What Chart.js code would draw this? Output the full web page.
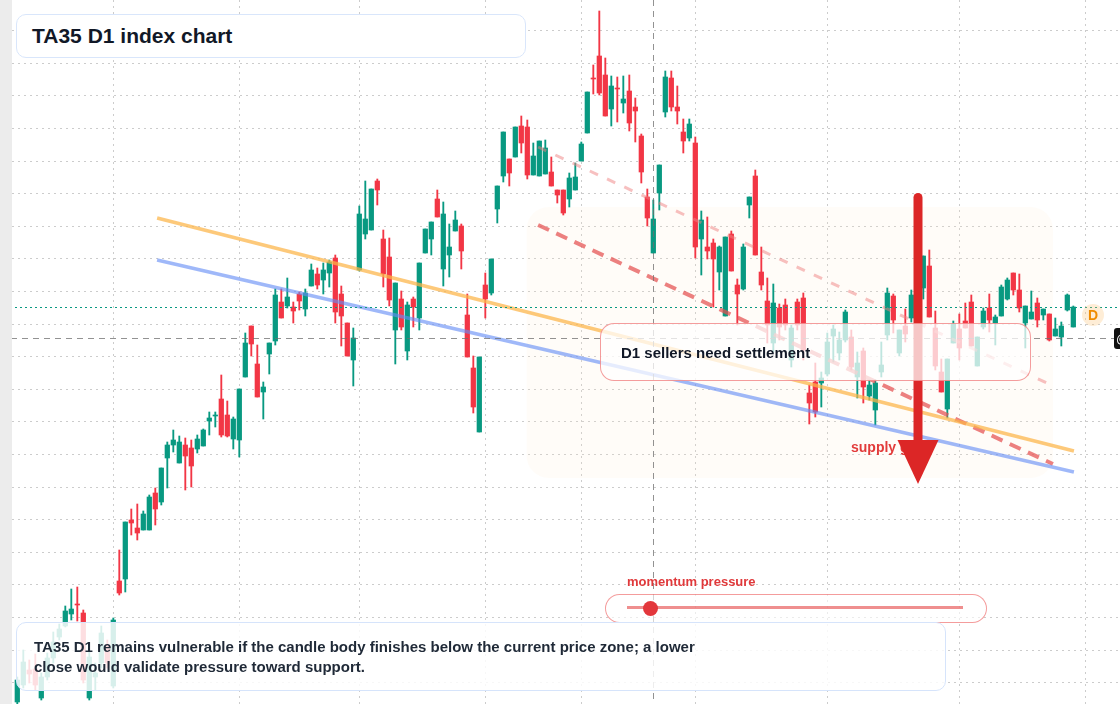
<!DOCTYPE html>
<html lang="en">
<head>
<meta charset="UTF-8">
<title>TA35 D1 index chart</title>
<script src="https://cdn.jsdelivr.net/npm/chart.js"></script>
<style>
    html, body { margin: 0; padding: 0; background: #fff; overflow: hidden; }
    body { width: 1120px; height: 704px; position: relative; font-family: "Liberation Sans", Arial, sans-serif; }
    #wrap { position: absolute; left: 0; top: 0; width: 1120px; height: 704px; }
    .strip { position: absolute; left: 0; top: 0; width: 12px; height: 704px; background: #ececec; }
    .box { position: absolute; box-sizing: border-box; }
    .title {
        left: 16px; top: 14px; width: 510px; height: 44px;
        background: #fff; border: 1.5px solid #d9e6fb; border-radius: 10px;
        padding-left: 15px; line-height: 42px;
        font-size: 21px; font-weight: bold; color: #111827;
    }
    .note {
        left: 16px; top: 622px; width: 930px; height: 69px;
        background: rgba(255,255,255,0.84); border: 1.5px solid #d6e4fb; border-radius: 10px;
        padding: 14px 0 0 17px; line-height: 20px;
        font-size: 15px; font-weight: bold; color: #1f2937;
    }
    .sellers {
        left: 600px; top: 323px; width: 431px; height: 58px;
        background: rgba(255,255,255,0.74); border: 1.5px solid rgba(236,90,90,0.6); border-radius: 14px;
        padding-left: 20px; line-height: 58px;
        font-size: 15px; font-weight: bold; color: #111827;
    }
    .label { position: absolute; font-weight: bold; white-space: nowrap; }
    .momentum { left: 627px; top: 574px; font-size: 13px; color: #e0393b; }
    .supply { left: 851px; top: 439px; font-size: 14px; color: #e23b3b; }
    .pill {
        left: 605px; top: 594px; width: 382px; height: 29px;
        background: rgba(255,255,255,0.6); border: 1.5px solid rgba(236,90,90,0.6); border-radius: 15px;
    }
    .track { position: absolute; left: 627px; top: 606px; width: 336px; height: 3px; background: rgba(232,96,96,0.7); }
    .knob { position: absolute; left: 643px; top: 601px; width: 15px; height: 15px; border-radius: 50%; background: #e3373c; }
    #arrow { position: absolute; left: 0; top: 0; }
    .badge {
        position: absolute; left: 1082px; top: 304px; width: 22px; height: 22px; border-radius: 50%;
        background: rgba(253,196,120,0.3); color: #f08c00; font-size: 14px; font-weight: bold;
        text-align: center; line-height: 22px;
    }
    .pricetag {
        position: absolute; left: 1114px; top: 328px; width: 14px; height: 21px; border-radius: 3px;
        background: #111; color: #fff; font-size: 13px; line-height: 21px; padding-left: 2px; box-sizing: border-box;
    }
</style>
</head>
<body>
<div id="wrap"><canvas id="chart"></canvas></div>
<div class="strip"></div>

<div class="label supply">supply gate</div>
<svg id="arrow" width="1120" height="704">
    <rect x="913.5" y="193" width="9" height="252" rx="4.5" fill="#dc2626"/>
    <polygon points="897.5,440 938.5,440 918,484" fill="#dc2626"/>
</svg>

<div class="box title">TA35 D1 index chart</div>
<div class="box sellers">D1 sellers need settlement</div>
<div class="label momentum">momentum pressure</div>
<div class="box pill"></div>
<div class="track"></div>
<div class="knob"></div>
<div class="box note">TA35 D1 remains vulnerable if the candle body finishes below the current price zone; a lower<br>close would validate pressure toward support.</div>
<div class="badge">D</div>
<div class="pricetag">@</div>

<script>
    // daily candles, oldest first (index points)
    var open = [2298,2315,2330,2331,2302,2323,2342,2363,2374,2386,
        2396,2387,2302,2323,2337,2355,2314,2419,2421,2480,
        2472,2470,2470,2507,2498,2542,2555,2537,2555,2552,
        2551,2554,2579,2584,2601,2585,2561,2560,2623,2674,
        2636,2608,2646,2659,2698,2694,2693,2706,2691,2714,
        2726,2720,2727,2742,2706,2677,2640,2730,2766,2770,
        2819,2761,2743,2670,2701,2649,2701,2682,2747,2761,
        2801,2731,2745,2769,2774,2685,2632,2568,2715,2707,
        2791,2824,2841,2843,2874,2873,2825,2824,2826,2828,
        2810,2810,2801,2810,2839,2867,2922,2944,2925,2891,
        2912,2897,2909,2893,2864,2803,2747,2807,2888,2922,
        2893,2868,2862,2857,2761,2753,2757,2728,2684,2766,
        2715,2711,2795,2824,2728,2699,2657,2692,2695,2640,
        2698,2702,2607,2618,2617,2626,2664,2647,2660,2663,
        2623,2649,2604,2590,2628,2665,2704,2647,2674,2682,
        2700,2712,2734,2672,2628,2591,2657,2671,2679,2698,
        2634,2673,2692,2677,2684,2701,2727,2710,2677,2681,
        2697,2685,2686,2664,2663,2690,2673];
    var high = [2323,2350,2340,2346,2327,2347,2368,2376,2394,2411,
        2413,2390,2350,2337,2374,2360,2382,2450,2478,2491,
        2496,2489,2505,2512,2532,2558,2570,2564,2562,2560,
        2565,2571,2588,2588,2625,2599,2583,2611,2667,2674,
        2655,2618,2657,2711,2711,2722,2698,2708,2711,2736,
        2732,2737,2740,2745,2714,2677,2672,2794,2819,2811,
        2821,2770,2762,2717,2709,2698,2703,2737,2771,2778,
        2810,2798,2776,2789,2776,2706,2644,2643,2727,2741,
        2814,2868,2841,2873,2884,2880,2857,2859,2860,2843,
        2810,2810,2827,2837,2858,2908,2935,2989,2942,2924,
        2923,2924,2925,2902,2866,2811,2800,2835,2929,2929,
        2914,2881,2881,2863,2789,2783,2761,2754,2763,2769,
        2721,2756,2803,2830,2753,2722,2716,2696,2701,2675,
        2701,2707,2615,2637,2628,2667,2675,2668,2690,2670,
        2648,2652,2620,2620,2658,2712,2706,2670,2691,2710,
        2705,2744,2750,2689,2641,2641,2679,2686,2697,2705,
        2663,2692,2706,2685,2715,2722,2727,2726,2694,2709,
        2702,2691,2686,2682,2678,2706,2694];
    var low = [2290,2312,2317,2310,2300,2320,2337,2360,2373,2380,
        2379,2317,2300,2310,2332,2332,2312,2405,2408,2465,
        2460,2470,2470,2475,2495,2512,2548,2537,2510,2513,
        2547,2554,2565,2573,2563,2563,2551,2543,2623,2644,
        2603,2581,2626,2655,2682,2692,2677,2690,2684,2714,
        2711,2706,2713,2677,2654,2644,2614,2729,2761,2770,
        2795,2713,2694,2636,2670,2640,2673,2670,2747,2745,
        2783,2714,2723,2769,2731,2643,2587,2568,2682,2705,
        2777,2818,2814,2843,2847,2821,2825,2824,2826,2814,
        2797,2785,2793,2810,2839,2867,2906,2905,2884,2874,
        2878,2887,2869,2858,2817,2774,2747,2790,2883,2889,
        2876,2847,2859,2742,2725,2741,2693,2710,2684,2729,
        2675,2710,2782,2745,2710,2657,2648,2660,2670,2633,
        2670,2640,2576,2583,2593,2624,2638,2640,2658,2630,
        2602,2597,2600,2575,2623,2660,2667,2644,2658,2678,
        2662,2701,2683,2630,2608,2582,2657,2640,2672,2654,
        2634,2671,2668,2655,2684,2700,2705,2688,2652,2681,
        2673,2680,2659,2664,2654,2689,2673];
    var close = [2320,2338,2326,2315,2323,2342,2358,2371,2389,2391,
        2395,2320,2343,2327,2367,2337,2380,2407,2478,2477,
        2467,2486,2503,2491,2532,2555,2560,2558,2544,2534,
        2561,2570,2582,2585,2565,2564,2581,2611,2657,2656,
        2603,2613,2657,2705,2682,2703,2689,2699,2707,2730,
        2715,2730,2738,2688,2684,2644,2662,2786,2781,2811,
        2810,2726,2700,2717,2673,2695,2693,2737,2771,2778,
        2783,2786,2753,2780,2749,2643,2593,2643,2701,2741,
        2814,2868,2827,2873,2857,2825,2844,2859,2852,2814,
        2805,2787,2822,2823,2856,2908,2921,2907,2884,2914,
        2911,2901,2877,2889,2828,2782,2781,2835,2923,2893,
        2889,2859,2876,2753,2780,2749,2741,2753,2763,2729,
        2706,2753,2803,2745,2715,2675,2697,2673,2675,2672,
        2675,2650,2597,2588,2622,2658,2671,2660,2688,2633,
        2637,2613,2615,2617,2635,2707,2680,2670,2666,2705,
        2670,2744,2683,2634,2608,2641,2676,2652,2672,2654,
        2663,2689,2680,2683,2713,2720,2710,2692,2694,2688,
        2680,2691,2660,2671,2674,2705,2693];

    // drawn levels: [start, end] in candle index and price
    var resistanceIdx = [23.3, 176.1], resistancePx = [2782, 2549];
    var supportIdx = [23.3, 176.1], supportPx = [2740, 2528];
    var channelLowIdx = [86.8, 172.6], channelLowPx = [2775, 2536];
    var channelHighIdx = [86.8, 172.3], channelHighPx = [2853, 2615];
    var zoneIdx = [84.9, 172.6], zonePx = [2522, 2793];
    var crossIdx = 106, crossPx = 2662;

    // grid positions
    var monthTicks = [16, 37, 57, 78, 94, 113, 135, 157, 178];
    var priceTicks = [2969.3, 2936.7, 2904.1, 2871.5, 2838.9, 2806.3, 2773.7, 2741.1, 2708.5, 2675.9,
        2643.3, 2610.7, 2578.1, 2545.5, 2512.9, 2480.3, 2447.7, 2415.1, 2382.5, 2349.9, 2317.3];

    var UP = '#089981', DOWN = '#f23645';
    var colors = close.map(function (c, i) { return c >= open[i] ? UP : DOWN; });
    var bodies = open.map(function (o, i) { return { x: i, y: [o, close[i]] }; });
    var wicks = low.map(function (l, i) { return { x: i, y: [l, high[i]] }; });

    function seg(xs, ys) {
        return [{ x: xs[0], y: ys[0] }, { x: xs[1], y: ys[1] }];
    }

    var overlayPlugin = {
        id: 'overlay',
        beforeDatasetsDraw: function (chart) {
            var ctx = chart.ctx, xs = chart.scales.x, ys = chart.scales.y;
            var x1 = xs.getPixelForValue(zoneIdx[0]), x2 = xs.getPixelForValue(zoneIdx[1]);
            var y1 = ys.getPixelForValue(zonePx[1]), y2 = ys.getPixelForValue(zonePx[0]);
            ctx.save();
            ctx.fillStyle = 'rgba(255,228,200,0.13)';
            ctx.beginPath();
            ctx.roundRect(x1, y1, x2 - x1, y2 - y1, 22);
            ctx.fill();
            ctx.restore();
        },
        afterDatasetsDraw: function (chart) {
            var ctx = chart.ctx, xs = chart.scales.x, ys = chart.scales.y, a = chart.chartArea;
            ctx.save();
            // crosshair
            ctx.strokeStyle = 'rgba(110,110,110,0.75)';
            ctx.lineWidth = 1;
            ctx.setLineDash([6, 5]);
            var cx = Math.round(xs.getPixelForValue(crossIdx)) + 0.5;
            ctx.beginPath(); ctx.moveTo(cx, a.top); ctx.lineTo(cx, a.bottom); ctx.stroke();
            var cy = Math.round(ys.getPixelForValue(crossPx)) + 0.5;
            ctx.beginPath(); ctx.moveTo(a.left, cy); ctx.lineTo(a.right, cy); ctx.stroke();
            // last price line
            ctx.strokeStyle = UP;
            ctx.setLineDash([2, 3]);
            var ly = Math.round(ys.getPixelForValue(close[close.length - 1])) + 0.5;
            ctx.beginPath(); ctx.moveTo(a.left, ly); ctx.lineTo(a.right, ly); ctx.stroke();
            ctx.restore();
        }
    };

    new Chart(document.getElementById('chart'), {
        type: 'bar',
        data: {
            datasets: [
                { type: 'line', data: seg(resistanceIdx, resistancePx), borderColor: 'rgba(252,180,70,0.72)', borderWidth: 3.5, pointRadius: 0, order: 0 },
                { type: 'line', data: seg(supportIdx, supportPx), borderColor: 'rgba(100,140,245,0.62)', borderWidth: 3.5, pointRadius: 0, order: 0 },
                { type: 'line', data: seg(channelLowIdx, channelLowPx), borderColor: 'rgba(228,80,80,0.72)', borderWidth: 4, borderDash: [12, 8], pointRadius: 0, order: 0 },
                { type: 'line', data: seg(channelHighIdx, channelHighPx), borderColor: 'rgba(240,130,130,0.5)', borderWidth: 3, borderDash: [9, 10], pointRadius: 0, order: 0 },
                { data: bodies, backgroundColor: colors, barThickness: 4.6, minBarLength: 1, grouped: false, order: 1 },
                { data: wicks, backgroundColor: colors, barThickness: 1.2, grouped: false, order: 2 }
            ]
        },
        options: {
            responsive: true,
            maintainAspectRatio: false,
            animation: false,
            layout: { padding: 0 },
            plugins: { legend: { display: false }, tooltip: { enabled: false } },
            scales: {
                x: {
                    type: 'linear', min: -2.883, max: 183.78, offset: false,
                    afterBuildTicks: function (s) { s.ticks = monthTicks.map(function (v) { return { value: v }; }); },
                    ticks: { display: false },
                    grid: { color: 'rgba(0,0,0,0.2)', drawTicks: false, offset: false },
                    border: { display: false, dash: [2, 4] }
                },
                y: {
                    min: 2296, max: 3000,
                    afterBuildTicks: function (s) { s.ticks = priceTicks.map(function (v) { return { value: v }; }); },
                    ticks: { display: false },
                    grid: { color: 'rgba(0,0,0,0.2)', drawTicks: false },
                    border: { display: false, dash: [2, 4] }
                }
            }
        },
        plugins: [overlayPlugin]
    });
</script>
</body>
</html>
